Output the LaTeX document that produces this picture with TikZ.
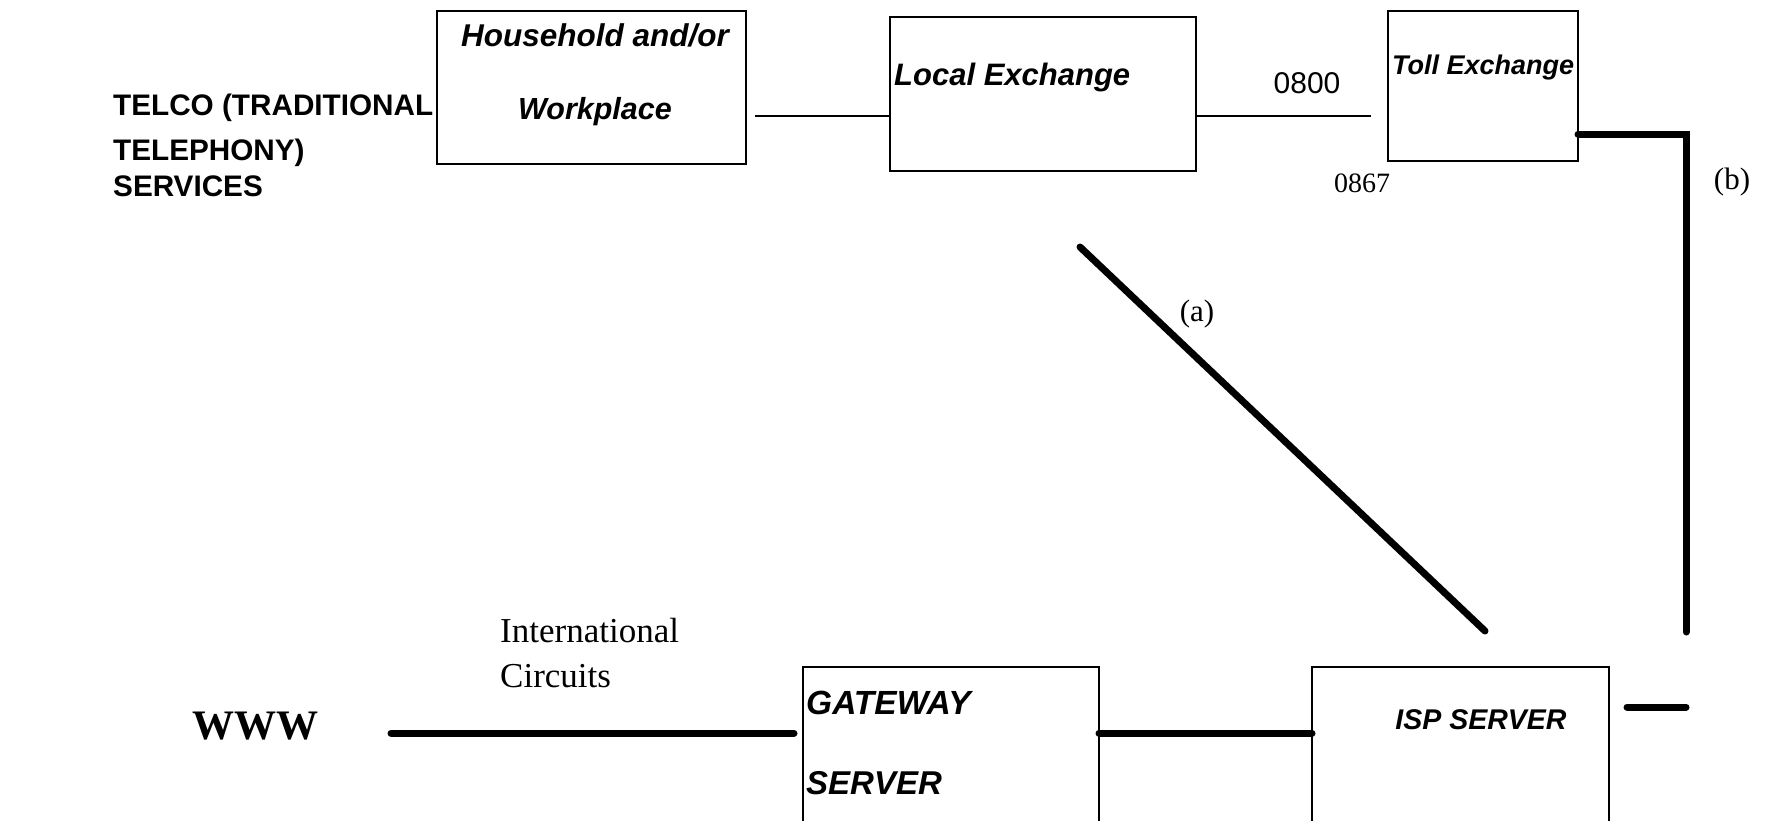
\documentclass[tikz,border=0pt]{standalone}
\usepackage{fontspec}
\setmainfont{Liberation Serif}
\setsansfont{Liberation Sans}
\newcommand\fsz[1]{\fontsize{#1}{#1}\selectfont}
\begin{document}
\begin{tikzpicture}[x=1pt,y=-1pt,
  boxn/.style={draw,line width=1.5pt,rectangle,anchor=north west,inner sep=0pt,outer sep=0pt},
  boxtxt/.style={font=\sffamily\bfseries\itshape\fsz{30},inner sep=0pt},
  thin/.style={line width=1.5pt},
  thick/.style={line width=7pt,line cap=round},
  sertxt/.style={font=\fsz{30},inner sep=0pt}]
\useasboundingbox (0,0) rectangle (1777,820);
% boxes
\node[boxn,minimum width=309pt,minimum height=153pt] (hh) at (437,11) {};
\node[boxn,minimum width=306pt,minimum height=154pt] (le) at (890,17) {};
\node[boxn,minimum width=190pt,minimum height=150pt] (te) at (1388,11) {};
\node[boxn,minimum width=296pt,minimum height=200pt] (gw) at (803,667) {};
\node[boxn,minimum width=297pt,minimum height=200pt] (isp) at (1312,667) {};
% box texts
\node[boxtxt,font=\sffamily\bfseries\itshape\fsz{31.5}] (hh1) at (595,35) {Household and/or};
\node[boxtxt,font=\sffamily\bfseries\itshape\fsz{30.5}] (hh2) at (595,112) {Workplace};
\node[boxtxt,anchor=west,font=\sffamily\bfseries\itshape\fsz{31}] (le1) at (894,77) {Local Exchange};
\node[boxtxt,anchor=west,font=\sffamily\bfseries\itshape\fsz{27}] (te1) at (1392,68) {Toll Exchange};
\node[boxtxt,anchor=west,font=\sffamily\bfseries\itshape\fsz{33.5}] (gw1) at (806,703) {GATEWAY};
\node[boxtxt,anchor=west,font=\sffamily\bfseries\itshape\fsz{33}] (gw2) at (806,783) {SERVER};
\node[boxtxt,font=\sffamily\bfseries\itshape\fsz{28.5}] (isp1) at (1481,720) {ISP SERVER};
% left labels
\node[anchor=west,inner sep=0pt,font=\sffamily\bfseries\fsz{29.7}] (telco1) at (113,108) {TELCO (TRADITIONAL};
\node[anchor=west,inner sep=0pt,font=\sffamily\bfseries\fsz{29.7}] (telco2) at (113,153) {TELEPHONY)};
\node[anchor=west,inner sep=0pt,font=\sffamily\bfseries\fsz{29.7}] (telco3) at (113,186) {SERVICES};
\node[inner sep=0pt,font=\bfseries\fsz{42}] (www) at (255,726) {WWW};
\node[anchor=west,inner sep=0pt,font=\fsz{35}] (ic1) at (500,631) {International};
\node[anchor=west,inner sep=0pt,font=\fsz{35}] (ic2) at (500,676) {Circuits};
% small labels
\node[inner sep=0pt,font=\sffamily\fsz{30}] (n0800) at (1307,83) {0800};
\node[sertxt,font=\fsz{28}] (n0867) at (1362,183) {0867};
\node[sertxt,font=\fsz{31}] (la) at (1197,314) {(a)};
\node[sertxt,font=\fsz{31}] (lb) at (1732,182) {(b)};
% coordinates
\coordinate (c1) at (755,116);
\coordinate (c2) at (1371,116);
\coordinate (tb1) at (1578,134);
\coordinate (tb2) at (1686,134);
\coordinate (tb3) at (1686,632);
\coordinate (d1) at (1080,247);
\coordinate (d2) at (1485,631);
\coordinate (w1) at (391,733);
\coordinate (w2) at (794,733);
\coordinate (g1) at (1099,733);
\coordinate (g2) at (1312,733);
\coordinate (i1) at (1627,707);
\coordinate (i2) at (1686,707);
% connectors
\draw[thin] (c1) -- (le.west |- c1);
\draw[thin] (le.east |- c2) -- (c2);
\draw[thick,line join=miter] (tb1) -- (tb2) -- (tb3);
\draw[thick] (d1) -- (d2);
\draw[thick] (w1) -- (w2);
\draw[thick] (g1) -- (g2);
\draw[thick] (i1) -- (i2);
\end{tikzpicture}
\end{document}
